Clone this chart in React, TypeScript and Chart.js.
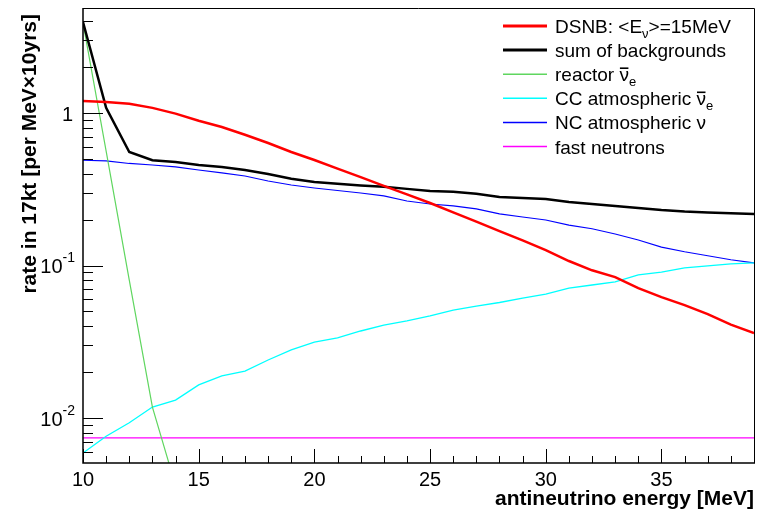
import { useEffect, useRef } from 'react';
import { Chart, registerables } from 'chart.js';

Chart.register(...registerables);

// ---- data ----
const energies = [10, 11, 12, 13, 14, 15, 16, 17, 18, 19, 20, 21, 22, 23, 24, 25, 26, 27, 28, 29, 30, 31, 32, 33, 34, 35, 36, 37, 38, 39];
const dsnb = [1.2, 1.18, 1.15, 1.08, 0.99, 0.89, 0.81, 0.72, 0.636, 0.555, 0.492, 0.432, 0.38, 0.333, 0.293, 0.257, 0.223, 0.194, 0.168, 0.146, 0.126, 0.107, 0.093, 0.084, 0.071, 0.062, 0.055, 0.048, 0.041, 0.036];
const sumBackgrounds = [3.95, 1.08, 0.555, 0.49, 0.477, 0.456, 0.443, 0.423, 0.398, 0.37, 0.353, 0.343, 0.335, 0.328, 0.318, 0.308, 0.304, 0.295, 0.281, 0.277, 0.273, 0.261, 0.253, 0.246, 0.238, 0.231, 0.226, 0.223, 0.22, 0.218];
const reactorEnergies = [10, 11, 12, 13, 14];
const reactor = [3.9, 0.563, 0.0803, 0.0118, 0.0036];
const ccAtmospheric = [0.0059, 0.0076, 0.0093, 0.0118, 0.0131, 0.0165, 0.0189, 0.0203, 0.024, 0.028, 0.0315, 0.0335, 0.0372, 0.0407, 0.0433, 0.0467, 0.051, 0.0542, 0.0572, 0.0612, 0.065, 0.071, 0.0745, 0.078, 0.0867, 0.0906, 0.0964, 0.0994, 0.1025, 0.104];
const ncAtmospheric = [0.49, 0.485, 0.467, 0.456, 0.443, 0.423, 0.405, 0.386, 0.358, 0.337, 0.322, 0.31, 0.299, 0.286, 0.265, 0.253, 0.246, 0.235, 0.218, 0.208, 0.199, 0.184, 0.174, 0.161, 0.147, 0.132, 0.123, 0.116, 0.109, 0.104];
const fastNeutrons = [0.0074, 0.0074, 0.0074, 0.0074, 0.0074, 0.0074, 0.0074, 0.0074, 0.0074, 0.0074, 0.0074, 0.0074, 0.0074, 0.0074, 0.0074, 0.0074, 0.0074, 0.0074, 0.0074, 0.0074, 0.0074, 0.0074, 0.0074, 0.0074, 0.0074, 0.0074, 0.0074, 0.0074, 0.0074, 0.0074];

const xMin = 10;
const xMax = 39;
const yMin = 0.00507;
const yMax = 4.88;
const xTickLabels = [10, 15, 20, 25, 30, 35];
const yDecades = [1, 0.1, 0.01];
const yDecadeExponents = ['', '-1', '-2'];

const xTitle = 'antineutrino energy [MeV]';
const yTitle = 'rate in 17kt [per MeV\u00D710yrs]';

// legend labels as text segments: sub = subscript, bar = overlined
type Seg = { t: string; sub?: boolean; bar?: boolean };
const legendLabels: Seg[][] = [
  [{ t: 'DSNB: <E' }, { t: '\u03BD', sub: true }, { t: '>=15MeV' }],
  [{ t: 'sum of backgrounds' }],
  [{ t: 'reactor ' }, { t: '\u03BD', bar: true }, { t: 'e', sub: true }],
  [{ t: 'CC atmospheric ' }, { t: '\u03BD', bar: true }, { t: 'e', sub: true }],
  [{ t: 'NC atmospheric \u03BD' }],
  [{ t: 'fast neutrons' }],
];

const FONT = '"Liberation Sans", Arial, Helvetica, sans-serif';

const pts = (xs: number[], ys: number[]) => xs.map((x, i) => ({ x, y: ys[i] }));

const rootPlugin = {
  id: 'rootStyle',
  afterDraw(chart: any) {
    const { ctx, chartArea: a, scales } = chart;
    const xs = scales.x;
    const ys = scales.y;
    ctx.save();
    ctx.strokeStyle = '#000';
    ctx.fillStyle = '#000';

    // frame
    ctx.lineWidth = 1;
    ctx.beginPath();
    ctx.moveTo(a.left, a.top + 0.5);
    ctx.lineTo(a.right + 0.5, a.top + 0.5);
    ctx.lineTo(a.right + 0.5, a.bottom);
    ctx.stroke();
    ctx.lineWidth = 1.5;
    ctx.beginPath();
    ctx.moveTo(a.left, a.top);
    ctx.lineTo(a.left, a.bottom);
    ctx.lineTo(a.right + 1, a.bottom);
    ctx.stroke();

    // x ticks (inward)
    ctx.lineWidth = 1;
    for (let v = xMin; v <= xMax; v++) {
      const px = Math.round(xs.getPixelForValue(v)) + 0.5;
      const len = v % 5 === 0 ? 14 : 7;
      ctx.beginPath();
      ctx.moveTo(px, a.bottom);
      ctx.lineTo(px, a.bottom - len);
      ctx.stroke();
    }
    // y ticks (inward, log)
    for (let e = -3; e <= 0; e++) {
      const d = Math.pow(10, e);
      for (let m = 1; m <= 9; m++) {
        const v = m * d;
        if (v < yMin || v > yMax) continue;
        const py = Math.round(ys.getPixelForValue(v)) + 0.5;
        const len = m === 1 ? 20 : 10;
        ctx.beginPath();
        ctx.moveTo(a.left, py);
        ctx.lineTo(a.left + len, py);
        ctx.stroke();
      }
    }

    // x tick labels
    ctx.font = `20px ${FONT}`;
    ctx.textAlign = 'center';
    ctx.textBaseline = 'middle';
    xTickLabels.forEach((v) => {
      ctx.fillText(String(v), xs.getPixelForValue(v), a.bottom + 17);
    });

    // y tick labels
    yDecades.forEach((v, i) => {
      const py = ys.getPixelForValue(v) + 2;
      const exp = yDecadeExponents[i];
      const right = a.left - 8;
      if (!exp) {
        ctx.font = `20px ${FONT}`;
        ctx.textAlign = 'right';
        ctx.fillText('1', right - 2, py);
      } else {
        ctx.font = `14px ${FONT}`;
        const w = ctx.measureText(exp).width;
        ctx.textAlign = 'right';
        ctx.fillText(exp, right, py - 9);
        ctx.font = `20px ${FONT}`;
        ctx.fillText('10', right - w, py);
      }
    });

    // axis titles
    ctx.font = `bold 21px ${FONT}`;
    ctx.textAlign = 'right';
    ctx.textBaseline = 'alphabetic';
    ctx.fillText(xTitle, a.right, 505);
    ctx.save();
    ctx.translate(36, 14);
    ctx.rotate(-Math.PI / 2);
    ctx.fillText(yTitle, 0, 0);
    ctx.restore();

    // legend
    const ds = chart.data.datasets;
    const x0 = 503;
    const x1 = 547;
    const tx = 555;
    legendLabels.forEach((segs, i) => {
      const rowY = 26 + i * 24.1;
      const d = ds[i];
      ctx.strokeStyle = d.borderColor;
      ctx.lineWidth = d.borderWidth >= 2 ? 3 : 1.5;
      ctx.beginPath();
      ctx.moveTo(x0, rowY);
      ctx.lineTo(x1, rowY);
      ctx.stroke();
      ctx.fillStyle = '#000';
      ctx.strokeStyle = '#000';
      ctx.textAlign = 'left';
      ctx.textBaseline = 'alphabetic';
      const base = rowY + 7;
      let cx = tx;
      segs.forEach((s) => {
        if (s.sub) {
          ctx.font = `13px ${FONT}`;
          ctx.fillText(s.t, cx, base + 5);
          cx += ctx.measureText(s.t).width;
        } else {
          ctx.font = `19px ${FONT}`;
          ctx.fillText(s.t, cx, base);
          const w = ctx.measureText(s.t).width;
          if (s.bar) {
            ctx.lineWidth = 1.6;
            ctx.beginPath();
            ctx.moveTo(cx + 0.5, base - 13);
            ctx.lineTo(cx + w - 0.5, base - 13);
            ctx.stroke();
          }
          cx += w;
        }
      });
    });
    ctx.restore();
  },
};

export default function App() {
  const ref = useRef<HTMLCanvasElement | null>(null);
  useEffect(() => {
    document.body.style.margin = '0';
    const canvas = ref.current;
    if (!canvas) return;
    const common = { pointRadius: 0, tension: 0, fill: false, clip: 0 };
    const chart = new Chart(canvas, {
      type: 'line',
      data: {
        datasets: [
          { label: 'DSNB: <E\u03BD>=15MeV', data: pts(energies, dsnb), borderColor: '#ff0000', borderWidth: 2.5, ...common },
          { label: 'sum of backgrounds', data: pts(energies, sumBackgrounds), borderColor: '#000000', borderWidth: 2.5, ...common },
          { label: 'reactor \u03BD\u0304e', data: pts(reactorEnergies, reactor), borderColor: '#5fd65f', borderWidth: 1.2, ...common },
          { label: 'CC atmospheric \u03BD\u0304e', data: pts(energies, ccAtmospheric), borderColor: '#00ffff', borderWidth: 1.3, ...common },
          { label: 'NC atmospheric \u03BD', data: pts(energies, ncAtmospheric), borderColor: '#0000ff', borderWidth: 1.1, ...common },
          { label: 'fast neutrons', data: pts(energies, fastNeutrons), borderColor: '#ff00ff', borderWidth: 1.2, ...common },
        ] as any,
      },
      options: {
        animation: false,
        responsive: false,
        devicePixelRatio: 1,
        layout: { padding: { left: 83, right: 12, top: 8, bottom: 49 } },
        plugins: { legend: { display: false }, tooltip: { enabled: false } },
        scales: {
          x: { type: 'linear', min: xMin, max: xMax, display: false },
          y: { type: 'logarithmic', min: yMin, max: yMax, display: false },
        },
      } as any,
      plugins: [rootPlugin],
    });
    return () => chart.destroy();
  }, []);
  return (
    <div style={{ position: 'fixed', left: 0, top: 0, width: 766, height: 512, background: '#fff' }}>
      <canvas ref={ref} width={766} height={512} style={{ display: 'block' }} />
    </div>
  );
}
